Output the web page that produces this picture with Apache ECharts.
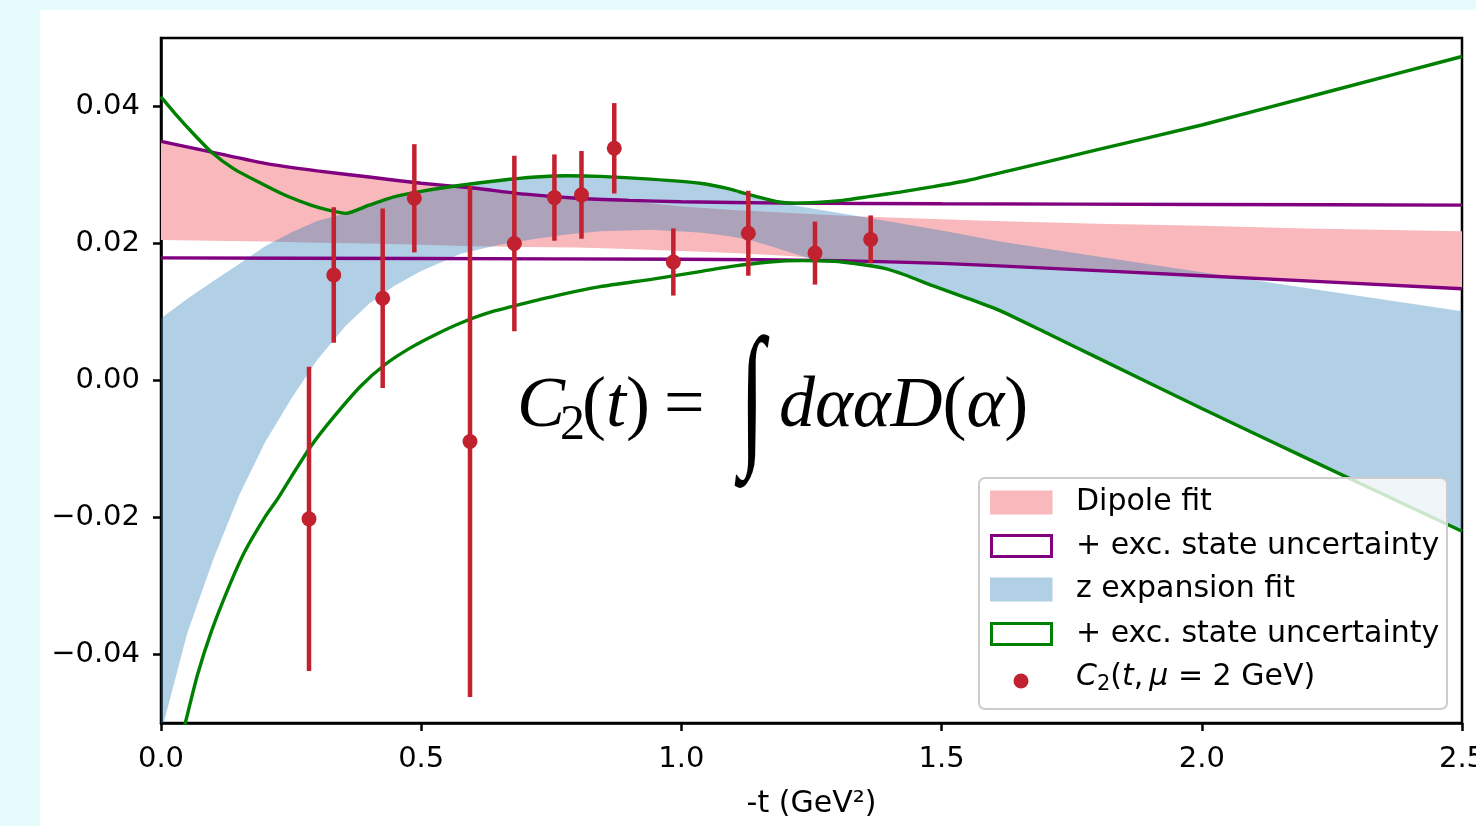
<!DOCTYPE html>
<html><head><meta charset="utf-8">
<script src="https://cdn.jsdelivr.net/npm/echarts@6/dist/echarts.min.js"></script>
<style>
html,body{margin:0;padding:0;background:#e6fcfc;overflow:hidden;}
#bg{position:absolute;left:40px;top:10px;width:1436px;height:816px;background:#fff;}
#chart{position:absolute;left:0;top:0;width:1476px;height:826px;}
</style></head><body><div id="bg"></div><div id="chart"></div>
<script>
// ---- tick labels ----
const xTickValues = [0, 0.5, 1.0, 1.5, 2.0, 2.5];
const yTickValues = [-0.04, -0.02, 0, 0.02, 0.04];

// ---- Dipole fit band (pink) ----
const dipoleX    = [0,0.1,0.2,0.3,0.4,0.5,0.6,0.7,0.8,0.9,1.0,1.1,1.2,1.3,1.4,1.6,1.8,2.0,2.2,2.5];
const dipoleHigh = [0.0349,0.0333,0.0317,0.0306,0.0297,0.0288,0.0280,0.0272,0.0266,0.0262,0.0254,0.0249,0.0245,0.0241,0.0238,0.0233,0.0229,0.0226,0.0222,0.0218];
const dipoleLow  = [0.0205,0.0204,0.0203,0.0201,0.0200,0.0198,0.0196,0.0195,0.0194,0.0192,0.0189,0.0186,0.0182,0.0176,0.0173,0.0168,0.0160,0.0153,0.0146,0.0134];

// ---- Dipole + exc. state uncertainty (purple outline) ----
const purpleUpX = [0,0.1,0.2,0.3,0.4,0.5,0.6,0.7,0.8,0.9,1.0,1.2,1.5,2.0,2.5];
const purpleUp  = [0.0349,0.0333,0.0317,0.0306,0.0297,0.0288,0.0281,0.0272,0.0266,0.0263,0.0261,0.0259,0.0258,0.0257,0.0256];
const purpleLoX = [0,0.5,1.0,1.3,1.5,1.7,2.0,2.5];
const purpleLo  = [0.0179,0.0178,0.0177,0.0175,0.0171,0.0164,0.0153,0.0134];

// ---- z expansion fit band (blue) ----
const zX    = [0,0.05,0.1,0.15,0.2,0.25,0.3,0.355,0.4,0.448,0.5,0.576,0.65,0.72,0.78,0.844,0.94,1.036,1.09,1.132,1.184,1.26,1.3,1.4,1.5,1.612,1.8,2.0,2.2,2.5];
const zHigh = [0.0091,0.0119,0.0145,0.0170,0.0196,0.0216,0.0233,0.0244,0.0256,0.0268,0.0276,0.0285,0.0292,0.0297,0.0299,0.0298,0.0294,0.0288,0.0280,0.0271,0.0260,0.0250,0.0245,0.0232,0.0219,0.0203,0.0181,0.0158,0.0135,0.0101];
const zLow  = [-0.0515,-0.0370,-0.0262,-0.0168,-0.0090,-0.0027,0.0030,0.0080,0.0112,0.0138,0.0160,0.0185,0.0198,0.0207,0.0213,0.0218,0.0220,0.0216,0.0211,0.0205,0.0193,0.0175,0.0172,0.0162,0.0135,0.0102,0.0032,-0.0041,-0.0113,-0.0220];

// ---- z expansion + exc. state uncertainty (green outline) ----
const greenUpX = [0,0.03,0.06,0.096,0.14,0.192,0.24,0.288,0.32,0.355,0.4,0.448,0.5,0.576,0.65,0.72,0.78,0.844,0.94,1.036,1.09,1.132,1.184,1.22,1.26,1.31,1.357,1.42,1.484,1.55,1.612,1.8,2.0,2.25,2.5];
const greenUp  = [0.0414,0.0387,0.0362,0.0334,0.0309,0.0288,0.0270,0.0256,0.0249,0.0244,0.0256,0.0268,0.0276,0.0285,0.0292,0.0297,0.0299,0.0298,0.0294,0.0288,0.0280,0.0271,0.0261,0.0259,0.0260,0.0263,0.0268,0.0275,0.0283,0.0292,0.0303,0.0337,0.0373,0.0423,0.0473];
const greenLoX = [0,0.024,0.048,0.07,0.096,0.13,0.16,0.2,0.224,0.25,0.288,0.33,0.384,0.43,0.48,0.53,0.576,0.63,0.69,0.76,0.844,0.945,1.036,1.1,1.169,1.23,1.292,1.34,1.388,1.43,1.484,1.55,1.612,1.7,1.8,2.0,2.2,2.5];
const greenLo  = [-0.066,-0.057,-0.0496,-0.0430,-0.0368,-0.0302,-0.0251,-0.0199,-0.0173,-0.0141,-0.0096,-0.0055,-0.0008,0.0023,0.0048,0.0068,0.0084,0.0099,0.0111,0.0124,0.0137,0.0148,0.0159,0.0167,0.0173,0.0175,0.0174,0.0170,0.0164,0.0154,0.0138,0.0120,0.0102,0.0070,0.0033,-0.0041,-0.0113,-0.0220];

// ---- lattice data points C2(t, mu = 2 GeV) ----
const pointT   = [0.2844,0.332,0.426,0.4868,0.5938,0.679,0.756,0.808,0.871,0.9845,1.1286,1.2567,1.3637];
const pointC2  = [-0.0202,0.0154,0.0120,0.0266,-0.0089,0.0200,0.0267,0.0271,0.0339,0.0173,0.0215,0.0186,0.0206];
const pointErr = [0.0222,0.0099,0.0131,0.0079,0.0373,0.0128,0.0063,0.0064,0.0066,0.0049,0.0062,0.0046,0.0035];

// ---- styles ----
const PINK = '#f8b8bc';
const BLUE = 'rgba(31,119,180,0.35)';
const PURPLE = '#800080';
const GREEN = '#008000';
const RED = '#c2212f';
const SANS = 'DejaVu Sans';
const SERIF = 'Liberation Serif';
const FS = 29;
const LFS = 30;

function bandSeries(name, xs, lo, hi, color, z) {
  return {
    type: 'custom', name: name, clip: true, z: z, silent: true,
    data: xs.map((x, i) => [x, lo[i], hi[i]]),
    encode: {x: 0, y: [1, 2]},
    renderItem: function (params, api) {
      if (params.dataIndex !== 0) return null;
      const pts = [];
      for (let i = 0; i < xs.length; i++) pts.push(api.coord([xs[i], hi[i]]));
      for (let i = xs.length - 1; i >= 0; i--) pts.push(api.coord([xs[i], lo[i]]));
      return {type: 'polygon', shape: {points: pts, smooth: 0}, style: {fill: color}};
    }
  };
}
function lineSeries(xs, ys, color) {
  return {
    type: 'line', data: xs.map((x, i) => [x, ys[i]]), symbol: 'none', showSymbol: false,
    smooth: 0.2, clip: true, z: 4, silent: true,
    lineStyle: {color: color, width: 3.4}
  };
}

const chart = echarts.init(document.getElementById('chart'), null, {renderer: 'canvas'});
chart.setOption({
  animation: false,
  backgroundColor: 'transparent',
  grid: {left: 161, top: 38, width: 1301, height: 685, outerBoundsMode: 'none', containLabel: false,
    show: true, borderColor: '#000', borderWidth: 2.5, backgroundColor: 'transparent'},
  xAxis: {
    type: 'value', min: 0, max: 2.5, interval: 0.5,
    name: '-t (GeV²)', nameLocation: 'middle', nameGap: 66,
    nameTextStyle: {fontFamily: SANS, fontSize: 30, color: '#000'},
    axisLine: {show: true, onZero: false, lineStyle: {color: '#000', width: 2.5}},
    axisTick: {show: true, length: 8, lineStyle: {color: '#000', width: 2.5}},
    axisLabel: {fontFamily: SANS, fontSize: FS, color: '#000', margin: 22, formatter: v => v.toFixed(1), customValues: xTickValues},
    splitLine: {show: false}
  },
  yAxis: {
    type: 'value', min: -0.05, max: 0.05, interval: 0.01,
    axisLine: {show: true, onZero: false, lineStyle: {color: '#000', width: 2.5}},
    axisTick: {show: true, length: 8, lineStyle: {color: '#000', width: 2.5}, customValues: yTickValues},
    axisLabel: {fontFamily: SANS, fontSize: FS, color: '#000', margin: 21, customValues: yTickValues, padding: [5, 0, 0, 0],
      formatter: v => (v < -1e-9 ? '\u2212' : '') + Math.abs(v).toFixed(2)},
    splitLine: {show: false}
  },
  series: [
    bandSeries('Dipole fit', dipoleX, dipoleLow, dipoleHigh, PINK, 1),
    bandSeries('z expansion fit', zX, zLow, zHigh, BLUE, 2),
    lineSeries(purpleUpX, purpleUp, PURPLE),
    lineSeries(purpleLoX, purpleLo, PURPLE),
    lineSeries(greenUpX, greenUp, GREEN),
    lineSeries(greenLoX, greenLo, GREEN),
    {
      type: 'custom', z: 5, silent: true, clip: true,
      data: pointT.map((t, i) => [t, pointC2[i], pointErr[i]]),
      encode: {x: 0, y: 1},
      renderItem: function (params, api) {
        const t = api.value(0), c = api.value(1), e = api.value(2);
        const p1 = api.coord([t, c - e]), p2 = api.coord([t, c + e]);
        return {type: 'line', shape: {x1: p1[0], y1: p1[1], x2: p2[0], y2: p2[1]}, style: {stroke: RED, lineWidth: 4.5}};
      }
    },
    {
      type: 'scatter', z: 6, silent: true, symbol: 'circle', symbolSize: 15,
      data: pointT.map((t, i) => [t, pointC2[i]]),
      itemStyle: {color: RED, opacity: 1}
    }
  ],
  graphic: {elements: [
    // formula
    {type: 'text', z: 50, x: 517, y: 407, style: {text: 'C', fontFamily: SERIF, fontSize: 72, fontStyle: 'italic', fill: '#000', align: 'left', verticalAlign: 'middle'}},
    {type: 'text', z: 50, x: 560, y: 426, style: {text: '2', fontFamily: SERIF, fontSize: 50, fill: '#000', align: 'left', verticalAlign: 'middle'}},
    {type: 'text', z: 50, x: 582, y: 407, style: {text: '{u|(}{i|t}{u|)}', fill: '#000', align: 'left', verticalAlign: 'middle',
      rich: {u: {fontFamily: SERIF, fontSize: 72}, i: {fontFamily: SERIF, fontSize: 72, fontStyle: 'italic'}}}},
    {type: 'text', z: 50, x: 664, y: 407, style: {text: '=', fontFamily: SERIF, fontSize: 72, fill: '#000', align: 'left', verticalAlign: 'middle'}},
    {type: 'text', z: 50, x: 752, y: 405, scaleY: 1.7, originX: 0, originY: 0,
      style: {text: '\u222B', fontFamily: SERIF, fontSize: 92, fill: '#000', align: 'center', verticalAlign: 'middle'}},
    {type: 'text', z: 50, x: 779, y: 407, style: {text: '{i|dααD}{u|(}{i|α}{u|)}', fill: '#000', align: 'left', verticalAlign: 'middle',
      rich: {u: {fontFamily: SERIF, fontSize: 72}, i: {fontFamily: SERIF, fontSize: 72, fontStyle: 'italic'}}}},
    // legend
    {type: 'rect', z: 100, shape: {x: 979, y: 478, width: 468, height: 231, r: 6}, style: {fill: 'rgba(255,255,255,0.8)', stroke: '#cccccc', lineWidth: 2}},
    {type: 'rect', z: 101, shape: {x: 990, y: 490.5, width: 62.5, height: 24}, style: {fill: PINK}},
    {type: 'text', z: 101, x: 1076, y: 502.5, style: {text: 'Dipole fit', fontFamily: SANS, fontSize: LFS, fill: '#000', align: 'left', verticalAlign: 'middle'}},
    {type: 'rect', z: 101, shape: {x: 991.5, y: 535.5, width: 60, height: 21}, style: {fill: 'none', stroke: PURPLE, lineWidth: 3}},
    {type: 'text', z: 101, x: 1076, y: 546, style: {text: '+ exc. state uncertainty', fontFamily: SANS, fontSize: LFS, fill: '#000', align: 'left', verticalAlign: 'middle'}},
    {type: 'rect', z: 101, shape: {x: 990, y: 577.5, width: 62.5, height: 24}, style: {fill: BLUE}},
    {type: 'text', z: 101, x: 1076, y: 589.5, style: {text: 'z expansion fit', fontFamily: SANS, fontSize: LFS, fill: '#000', align: 'left', verticalAlign: 'middle'}},
    {type: 'rect', z: 101, shape: {x: 991.5, y: 623.5, width: 60, height: 21}, style: {fill: 'none', stroke: GREEN, lineWidth: 3}},
    {type: 'text', z: 101, x: 1076, y: 634, style: {text: '+ exc. state uncertainty', fontFamily: SANS, fontSize: LFS, fill: '#000', align: 'left', verticalAlign: 'middle'}},
    {type: 'circle', z: 101, shape: {cx: 1021, cy: 681, r: 7.5}, style: {fill: RED}},
    {type: 'text', z: 101, x: 1076, y: 677, style: {text: '{i|C}{s|2}{n|(}{i|t}{n|,\u2009}{i|μ}{n| = 2 GeV)}', fill: '#000', align: 'left', verticalAlign: 'middle',
      rich: {
        n: {fontFamily: SANS, fontSize: LFS, lineHeight: 36},
        i: {fontFamily: SANS, fontSize: LFS, fontStyle: 'italic', lineHeight: 36},
        s: {fontFamily: SANS, fontSize: 21, lineHeight: 20, verticalAlign: 'bottom'}
      }}}
  ]}
});
</script></body></html>
